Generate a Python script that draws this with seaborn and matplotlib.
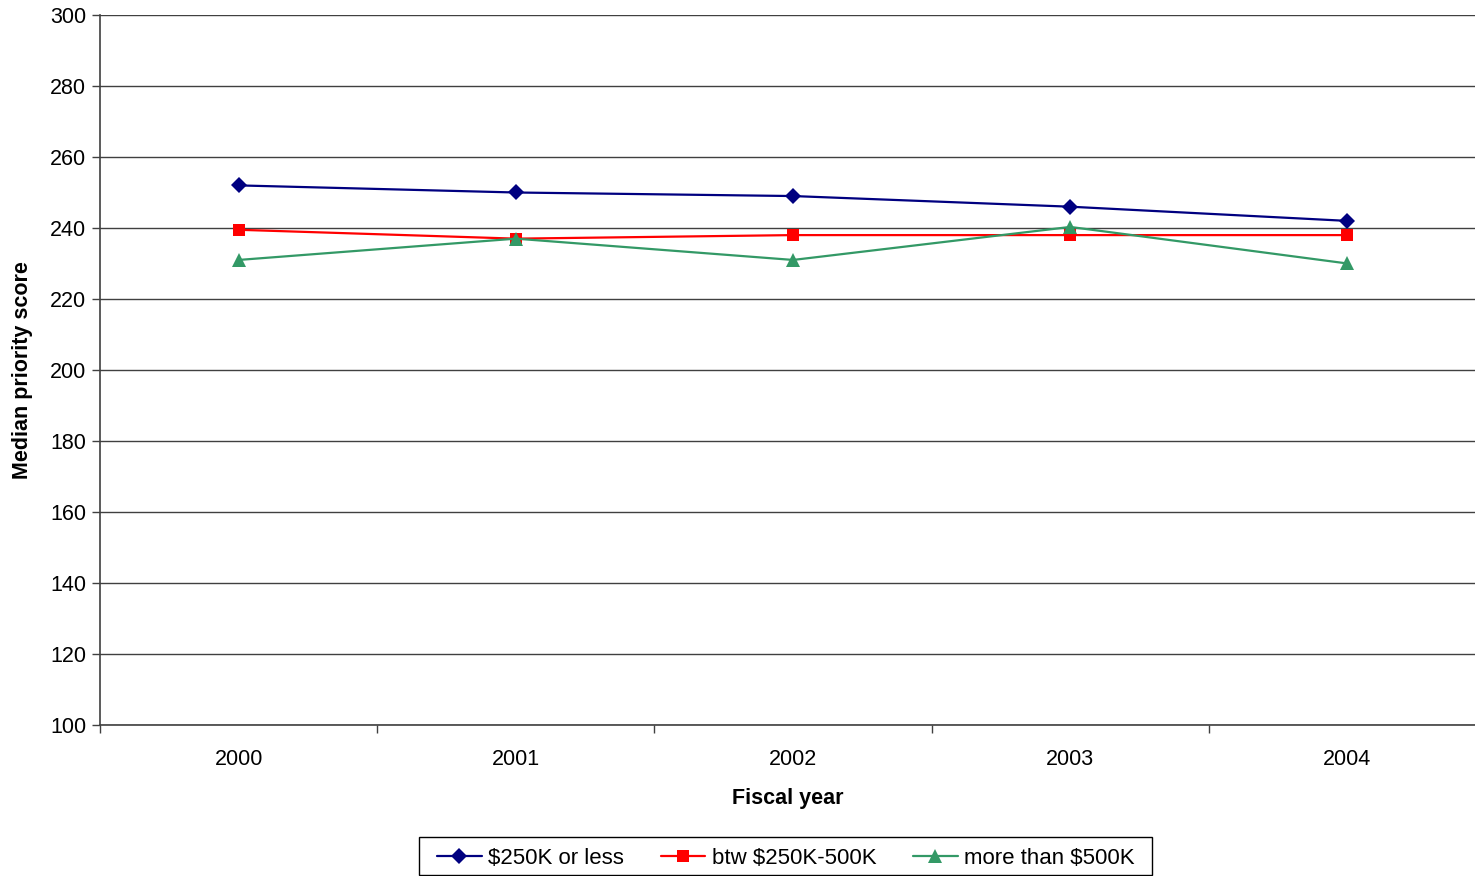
"""Median priority score by fiscal year and award size."""

import matplotlib.pyplot as plt
import pandas as pd
import seaborn as sns
from matplotlib.patches import Rectangle
from matplotlib.ticker import FixedLocator

YEARS = [2000, 2001, 2002, 2003, 2004]
SERIES = ["$250K or less", "btw $250K-500K", "more than $500K"]
SMALL = [252, 250, 249, 246, 242]
MEDIUM = [239.5, 237, 238, 238, 238]
LARGE = [231, 237, 231, 240.3, 230]
COLORS = ["#000080", "#FF0000", "#339966"]
MARKERS = ["D", "s", "^"]
MARKER_SIZES = [8, 9, 9.5]
Y_TICKS = list(range(100, 301, 20))


def main() -> None:
    df = pd.DataFrame(
        {
            "year": YEARS * 3,
            "score": SMALL + MEDIUM + LARGE,
            "group": [SERIES[0]] * 5 + [SERIES[1]] * 5 + [SERIES[2]] * 5,
        }
    )

    sns.set_style("white")
    plt.rcParams["font.family"] = ["Liberation Sans", "DejaVu Sans"]
    plt.rcParams["text.color"] = "black"
    plt.rcParams["axes.labelcolor"] = "black"
    plt.rcParams["xtick.color"] = "black"
    plt.rcParams["ytick.color"] = "black"

    fig = plt.figure(figsize=(14.75, 8.76), dpi=100)
    ax = fig.add_axes([100 / 1475, 1 - 725 / 876, 1 - 100 / 1475, (725 - 15) / 876])

    sns.lineplot(
        data=df, x="year", y="score", hue="group", style="group",
        hue_order=SERIES, style_order=SERIES,
        palette=COLORS, markers=MARKERS, dashes=False,
        markersize=9, linewidth=1.6, markeredgewidth=0,
        ax=ax, legend=False,
    )
    for line, size in zip(ax.lines, MARKER_SIZES):
        line.set_markersize(size)

    ax.set_ylim(100, 300)
    ax.set_xlim(1999.5, 2004.46)
    ax.set_yticks(Y_TICKS)
    ax.set_xticks(YEARS)
    ax.xaxis.set_minor_locator(FixedLocator([y + 0.5 for y in [1999] + YEARS[:-1]]))
    ax.tick_params(axis="x", which="major", bottom=False, length=0, labelsize=15.5, pad=17)
    ax.tick_params(axis="x", which="minor", bottom=True, length=6, width=1,
                   color="#404040", direction="out")
    ax.tick_params(axis="y", left=True, length=6, width=1, color="#404040",
                   direction="out", labelsize=15.5, pad=4)
    ax.grid(axis="y", color="#404040", linewidth=1)
    ax.set_axisbelow(True)

    for side in ["left", "bottom"]:
        ax.spines[side].set_color("#404040")
        ax.spines[side].set_linewidth(1.2)
    ax.spines["top"].set_visible(False)
    ax.spines["right"].set_visible(False)

    ax.set_xlabel("Fiscal year", fontsize=15.5, fontweight="bold", labelpad=13)
    ax.set_ylabel("Median priority score", fontsize=15.5, fontweight="bold", labelpad=12)

    handles = [
        plt.Line2D([], [], color=c, marker=m, markersize=s, linewidth=1.6, markeredgewidth=0)
        for c, m, s in zip(COLORS, MARKERS, MARKER_SIZES)
    ]
    fig.legend(
        handles, SERIES, loc="center", bbox_to_anchor=(786 / 1475, 1 - 858 / 876),
        ncol=3, fontsize=16, frameon=False,
        handlelength=2.0, handletextpad=0.3, columnspacing=1.65, borderpad=0.3,
    )
    # legend frame drawn separately to get the wide side padding
    fig.patches.append(Rectangle(
        (419 / 1475, 1 - 875 / 876), (1152 - 419) / 1475, (875 - 837) / 876,
        transform=fig.transFigure, facecolor="none", edgecolor="black", linewidth=1,
    ))

    fig.savefig("out.png", dpi=100)


if __name__ == "__main__":
    main()
